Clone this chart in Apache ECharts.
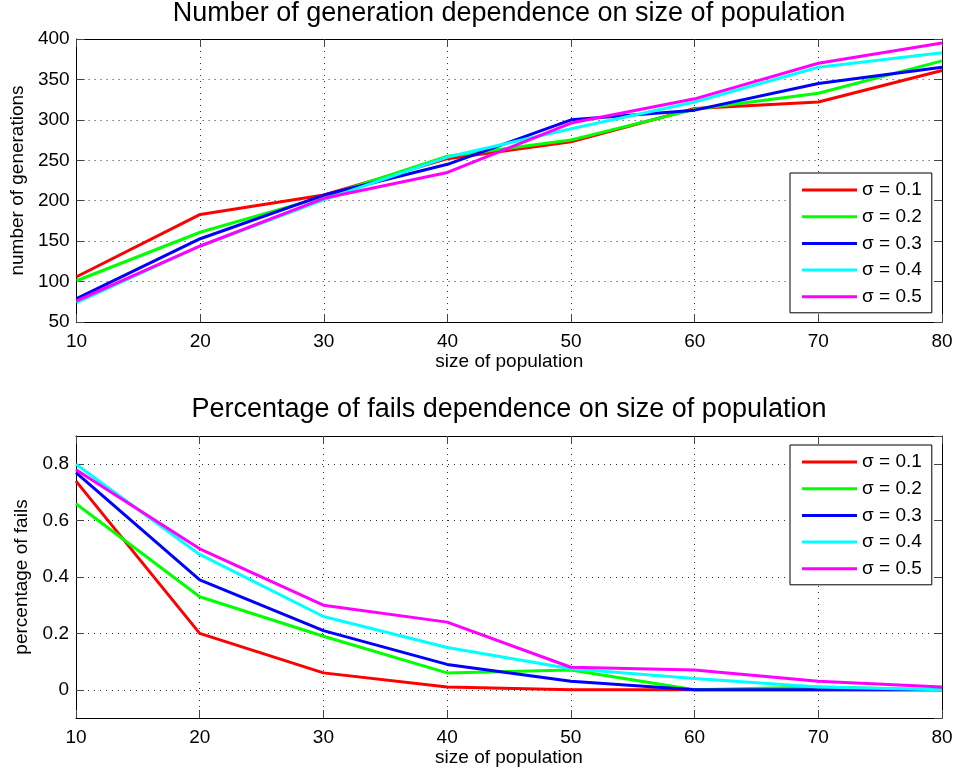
<!DOCTYPE html>
<html>
<head>
<meta charset="utf-8">
<script src="https://cdn.jsdelivr.net/npm/echarts@6/dist/echarts.min.js"></script>
<style>
html,body{margin:0;padding:0;background:#fff;}
#chart{width:958px;height:776px;}
</style>
</head>
<body>
<div id="chart"></div>
<script>
// ---- data ----
var sizes = [10, 20, 30, 40, 50, 60, 70, 80];
var seriesNames = ['σ = 0.1', 'σ = 0.2', 'σ = 0.3', 'σ = 0.4', 'σ = 0.5'];
var seriesColors = ['#ff0000', '#00ff00', '#0000ff', '#00ffff', '#ff00ff'];

var gen01 = [106, 183, 207, 252, 273, 314, 322, 361];
var gen02 = [101, 161, 205, 255, 275, 313, 333, 373];
var gen03 = [79, 153, 207, 245, 300, 312, 345, 365];
var gen04 = [74, 144, 201, 254, 289, 322, 365, 383];
var gen05 = [76, 144, 203, 235, 296, 326, 370, 395];

var fail01 = [0.74, 0.20, 0.06, 0.01, 0.00, 0.00, 0.00, 0.00];
var fail02 = [0.66, 0.33, 0.19, 0.06, 0.07, 0.00, 0.01, 0.00];
var fail03 = [0.77, 0.39, 0.21, 0.09, 0.03, 0.00, 0.00, 0.00];
var fail04 = [0.80, 0.48, 0.26, 0.15, 0.075, 0.04, 0.01, 0.00];
var fail05 = [0.78, 0.50, 0.30, 0.24, 0.08, 0.07, 0.03, 0.01];

var titleTop = 'Number of generation dependence on size of population';
var titleBottom = 'Percentage of fails dependence on size of population';
var xName = 'size of population';
var yNameTop = 'number of generations';
var yNameBottom = 'percentage of fails';

// ---- chart ----
var FONT = "'Liberation Sans', Arial, Helvetica, sans-serif";
var chart = echarts.init(document.getElementById('chart'), null, {renderer: 'canvas'});

var gridLine = {show: true, lineStyle: {type: [1, 5], color: '#333', width: 1}};
var frameLine = {show: true, onZero: false, lineStyle: {color: '#000', width: 1}};
var tick = {show: true, inside: true, length: 8, lineStyle: {color: '#444', width: 1}};

function xAxes(gi) {
  return [
    {gridIndex: gi, type: 'value', position: 'bottom', min: 10, max: 80, interval: 10,
     axisLine: frameLine, axisTick: tick, splitLine: gridLine,
     axisLabel: {fontSize: 19, color: '#000', margin: 10, fontFamily: FONT},
     name: xName, nameLocation: 'middle', nameGap: 30,
     nameTextStyle: {fontSize: 19, color: '#000', fontFamily: FONT}},
    {gridIndex: gi, type: 'value', position: 'top', min: 10, max: 80, interval: 10,
     axisLine: frameLine, axisTick: tick, splitLine: {show: false}, axisLabel: {show: false}}
  ];
}

var option = {
  backgroundColor: '#fff',
  animation: false,
  textStyle: {fontFamily: FONT},
  title: [
    {text: titleTop, left: 509, top: 0, textAlign: 'center', padding: 0,
     textStyle: {fontSize: 27, fontWeight: 'normal', color: '#000', fontFamily: FONT}},
    {text: titleBottom, left: 509, top: 396, textAlign: 'center', padding: 0,
     textStyle: {fontSize: 27, fontWeight: 'normal', color: '#000', fontFamily: FONT}}
  ],
  grid: [
    {left: 76, top: 39, width: 866, height: 283},
    {left: 76, top: 436, width: 866, height: 282}
  ],
  legend: [
    {data: seriesNames, left: 790, top: 173, orient: 'vertical', icon: 'rect',
     itemWidth: 55, itemHeight: 3, itemGap: 6.7, padding: [7, 10, 6, 12],
     backgroundColor: '#fff', borderColor: '#000', borderWidth: 1,
     textStyle: {fontSize: 19, color: '#000', lineHeight: 20, fontFamily: FONT}},
    {data: seriesNames, left: 790, top: 445, orient: 'vertical', icon: 'rect',
     itemWidth: 55, itemHeight: 3, itemGap: 6.7, padding: [7, 10, 6, 12],
     backgroundColor: '#fff', borderColor: '#000', borderWidth: 1,
     textStyle: {fontSize: 19, color: '#000', lineHeight: 20, fontFamily: FONT}}
  ],
  xAxis: xAxes(0).concat(xAxes(1)),
  yAxis: [
    {gridIndex: 0, type: 'value', position: 'left', min: 50, max: 400, interval: 50,
     axisLine: frameLine, axisTick: tick, splitLine: gridLine,
     axisLabel: {fontSize: 19, color: '#000', margin: 7, fontFamily: FONT},
     name: yNameTop, nameLocation: 'middle', nameGap: 44,
     nameTextStyle: {fontSize: 19, color: '#000', fontFamily: FONT}},
    {gridIndex: 0, type: 'value', position: 'right', min: 50, max: 400, interval: 50,
     axisLine: frameLine, axisTick: tick, splitLine: {show: false}, axisLabel: {show: false}},
    {gridIndex: 1, type: 'value', position: 'left', min: -0.1, max: 0.9, splitNumber: 5,
     axisLine: frameLine, axisTick: tick, splitLine: gridLine,
     axisLabel: {fontSize: 19, color: '#000', margin: 7, fontFamily: FONT,
                 showMinLabel: false, showMaxLabel: false},
     name: yNameBottom, nameLocation: 'middle', nameGap: 44,
     nameTextStyle: {fontSize: 19, color: '#000', fontFamily: FONT}},
    {gridIndex: 1, type: 'value', position: 'right', min: -0.1, max: 0.9, splitNumber: 5,
     axisLine: frameLine, axisTick: tick, splitLine: {show: false}, axisLabel: {show: false}}
  ],
  series: []
};

function pairs(arr) { return sizes.map(function (s, i) { return [s, arr[i]]; }); }
var genData = [gen01, gen02, gen03, gen04, gen05];
var failData = [fail01, fail02, fail03, fail04, fail05];
for (var k = 0; k < 5; k++) {
  option.series.push({
    name: seriesNames[k], type: 'line', xAxisIndex: 0, yAxisIndex: 0,
    data: pairs(genData[k]), symbol: 'none', color: seriesColors[k],
    lineStyle: {width: 3, color: seriesColors[k]}, z: 2 + k * 0.01
  });
}
for (var m = 0; m < 5; m++) {
  option.series.push({
    name: seriesNames[m], type: 'line', xAxisIndex: 2, yAxisIndex: 2,
    data: pairs(failData[m]), symbol: 'none', color: seriesColors[m],
    lineStyle: {width: 3, color: seriesColors[m]}, z: 2 + m * 0.01
  });
}
chart.setOption(option);
</script>
</body>
</html>
